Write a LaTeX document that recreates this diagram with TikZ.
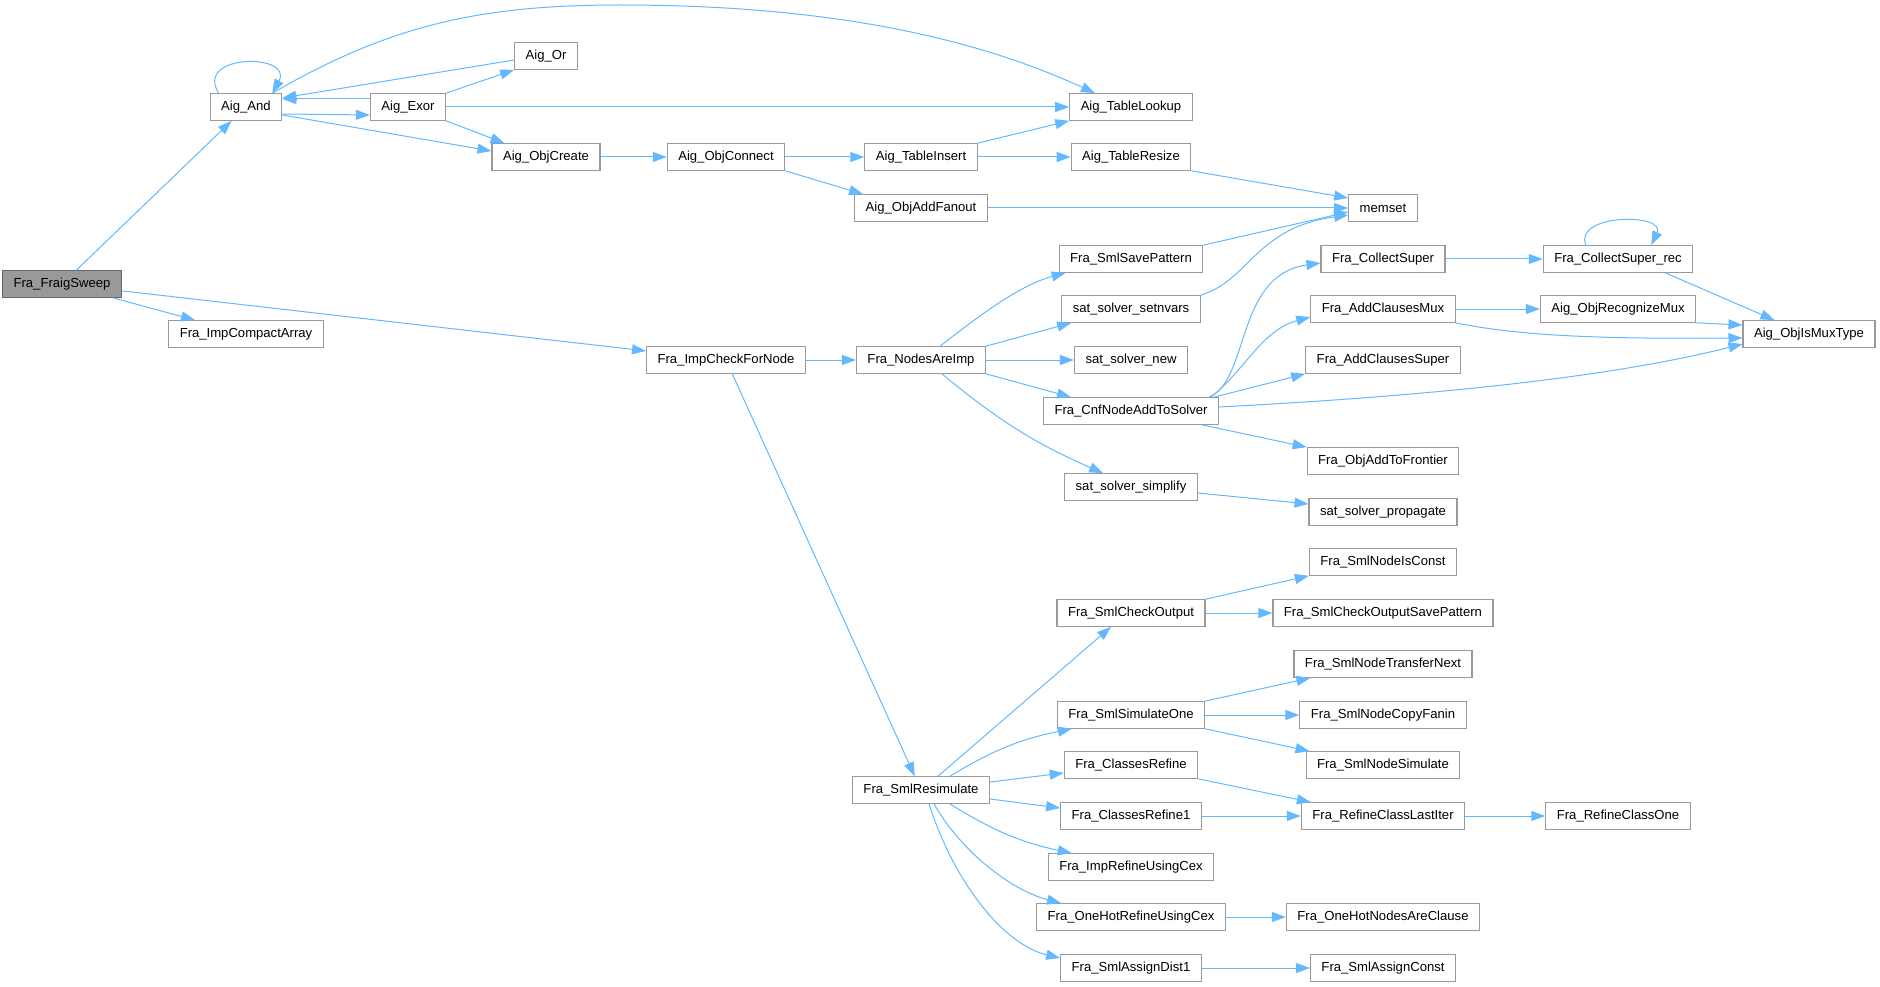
\documentclass[tikz,border=0pt]{standalone}
\usepackage{fontspec}
\setmainfont{Liberation Sans}
\usepackage{tikz}
\usetikzlibrary{arrows.meta, positioning}

\definecolor{edgeblue}{HTML}{63B8FF}
\definecolor{boxline}{HTML}{999999}
\definecolor{rootfill}{HTML}{999999}
\definecolor{rootline}{HTML}{666666}

\begin{document}
\begin{tikzpicture}[
  x=1pt, y=-1pt,
  fn/.style={draw=boxline, fill=white, line width=1.1pt, minimum height=26.6pt,
    inner xsep=11pt, inner ysep=0pt, font=\fontsize{13.1}{15}\selectfont},
  root/.style={fn, draw=rootline, fill=rootfill},
  call/.style={-{Triangle[length=14pt, width=10pt, fill=edgeblue]}, draw=edgeblue, line width=1pt}
]
\useasboundingbox (0,0) rectangle (1880,987);

% callers on the left
\node[root] (sweep) at (62,284) {Fra\_FraigSweep};
\node[fn] (aigand) at (246,107) {Aig\_And};
\node[fn] (compact) at (246,334) {Fra\_ImpCompactArray};
\node[fn] (exor) at (408,107) {Aig\_Exor};
\node[fn] (aigor) at (546,56) {Aig\_Or};
\node[fn] (objcreate) at (546,157) {Aig\_ObjCreate};
\node[fn] (objconnect) at (726,157) {Aig\_ObjConnect};
\node[fn] (impcheck) at (726,360) {Fra\_ImpCheckForNode};

% middle column
\node[fn] (tableinsert) at (921,157) {Aig\_TableInsert};
\node[fn] (addfanout) at (921,208) {Aig\_ObjAddFanout};
\node[fn] (areimp) at (921,360) {Fra\_NodesAreImp};
\node[fn] (resim) at (921,790) {Fra\_SmlResimulate};

\node[fn] (lookup) at (1131,107) {Aig\_TableLookup};
\node[fn] (resize) at (1131,157) {Aig\_TableResize};
\node[fn] (savepat) at (1131,259) {Fra\_SmlSavePattern};
\node[fn] (setnvars) at (1131,309) {sat\_solver\_setnvars};
\node[fn] (solvernew) at (1131,360) {sat\_solver\_new};
\node[fn] (cnfadd) at (1131,411) {Fra\_CnfNodeAddToSolver};
\node[fn] (simplify) at (1131,487) {sat\_solver\_simplify};
\node[fn] (checkout) at (1131,613) {Fra\_SmlCheckOutput};
\node[fn] (simone) at (1131,715) {Fra\_SmlSimulateOne};
\node[fn] (refine) at (1131,765) {Fra\_ClassesRefine};
\node[fn] (refine1) at (1131,816) {Fra\_ClassesRefine1};
\node[fn] (imprefine) at (1131,867) {Fra\_ImpRefineUsingCex};
\node[fn] (hotrefine) at (1131,917) {Fra\_OneHotRefineUsingCex};
\node[fn] (dist1) at (1131,968) {Fra\_SmlAssignDist1};

% callees on the right
\node[fn] (memset) at (1383,208) {memset};
\node[fn] (collect) at (1383,259) {Fra\_CollectSuper};
\node[fn] (clmux) at (1383,309) {Fra\_AddClausesMux};
\node[fn] (clsuper) at (1383,360) {Fra\_AddClausesSuper};
\node[fn] (frontier) at (1383,461) {Fra\_ObjAddToFrontier};
\node[fn] (propagate) at (1383,512) {sat\_solver\_propagate};
\node[fn] (isconst) at (1383,562) {Fra\_SmlNodeIsConst};
\node[fn] (checksave) at (1383,613) {Fra\_SmlCheckOutputSavePattern};
\node[fn] (transfer) at (1383,664) {Fra\_SmlNodeTransferNext};
\node[fn] (copyfanin) at (1383,715) {Fra\_SmlNodeCopyFanin};
\node[fn] (nodesim) at (1383,765) {Fra\_SmlNodeSimulate};
\node[fn] (lastiter) at (1383,816) {Fra\_RefineClassLastIter};
\node[fn] (hotclause) at (1383,917) {Fra\_OneHotNodesAreClause};
\node[fn] (assignconst) at (1383,968) {Fra\_SmlAssignConst};

\node[fn] (collectrec) at (1618,259) {Fra\_CollectSuper\_rec};
\node[fn] (recmux) at (1618,309) {Aig\_ObjRecognizeMux};
\node[fn] (classone) at (1618,816) {Fra\_RefineClassOne};
\node[fn] (ismux) at (1809,334) {Aig\_ObjIsMuxType};

% Fra_FraigSweep
\draw[call] (sweep) -- (aigand);
\draw[call] (sweep) -- (compact);
\draw[call] (sweep) -- (impcheck);

% Aig_And / Aig_Exor / Aig_Or
\draw[call] ([xshift=9pt]aigand.north west) .. controls +(-25,-40) and +(22,-40) .. ([xshift=-10pt]aigand.north east);
\draw[call] ([xshift=-10pt]aigand.north east) .. controls (390,25) and (480,5) .. (620,5)
  .. controls (850,5) and (990,45) .. ([xshift=-36pt]lookup.north);
\draw[call] ([yshift=-7pt]aigand.east) -- ([yshift=-8pt]exor.west);
\draw[call] ([yshift=-8pt]aigand.east) -- ([yshift=6pt]objcreate.west);
\draw[call] ([yshift=8pt]exor.west) -- ([yshift=8pt]aigand.east);
\draw[call] ([yshift=-4pt]aigor.west) -- ([yshift=9pt]aigand.east);
\draw[call] (exor.north east) -- (aigor.south west);
\draw[call] (exor) -- (lookup);
\draw[call] (exor.south east) -- ([xshift=13pt]objcreate.north west);

% object creation
\draw[call] (objcreate) -- (objconnect);
\draw[call] (objconnect) -- (tableinsert);
\draw[call] (objconnect.south east) -- ([xshift=9pt]addfanout.north west);
\draw[call] (tableinsert.north east) -- (lookup.south west);
\draw[call] (tableinsert) -- (resize);
\draw[call] (resize.south east) -- ([yshift=10pt]memset.west);
\draw[call] (addfanout) -- (memset);
\draw[call] (savepat.north east) -- ([yshift=-4pt]memset.west);
\draw[call] (setnvars.north east) .. controls (1250,280) and (1255,228) .. ([yshift=-7pt]memset.west);

% implication check
\draw[call] (impcheck) -- (areimp);
\draw[call] (impcheck) -- (resim);
\draw[call] ([xshift=19pt]areimp.north) .. controls (980,315) and (1020,285) .. ([xshift=7pt]savepat.south west);
\draw[call] (areimp.north east) -- ([xshift=10pt]setnvars.south west);
\draw[call] (areimp) -- (solvernew);
\draw[call] (areimp.south east) -- ([xshift=28pt]cnfadd.north west);
\draw[call] ([xshift=21pt]areimp.south) to[bend right=8] ([xshift=39pt]simplify.north west);
\draw[call] ([yshift=-6pt]simplify.east) -- ([yshift=8pt]propagate.west);

% CNF construction
\draw[call] ([xshift=-10pt]cnfadd.north east) .. controls (1250,380) and (1235,275) .. ([yshift=-4pt]collect.west);
\draw[call] ([xshift=-8pt]cnfadd.north east) .. controls (1245,370) and (1262,330) .. ([yshift=-8pt]clmux.west);
\draw[call] ([xshift=-5pt]cnfadd.north east) -- (clsuper.south west);
\draw[call] ([yshift=4pt]cnfadd.east) .. controls (1450,395) and (1620,375) .. ([yshift=-10pt]ismux.west);
\draw[call] ([xshift=-17pt]cnfadd.south east) -- (frontier.north west);
\draw[call] (collect) -- (collectrec);
\draw[call] ([xshift=43pt]collectrec.north west) .. controls +(-12,-32) and +(15,-32) .. ([xshift=-42pt]collectrec.north east);
\draw[call] ([xshift=-28pt]collectrec.south east) -- ([xshift=32pt]ismux.north west);
\draw[call] (clmux) -- (recmux);
\draw[call] (clmux.south east) .. controls (1520,336) and (1600,339) .. ([yshift=-4pt]ismux.west);
\draw[call] (recmux.south east) -- ([yshift=9pt]ismux.west);

% resimulation
\draw[call] ([xshift=17pt]resim.north) -- ([xshift=-20pt]checkout.south);
\draw[call] ([xshift=29pt]resim.north) to[bend left=10] ([xshift=15pt]simone.south west);
\draw[call] ([yshift=8pt]resim.east) -- ([yshift=-8pt]refine.west);
\draw[call] ([yshift=-9pt]resim.east) -- ([yshift=8pt]refine1.west);
\draw[call] ([xshift=29pt]resim.south) to[bend right=10] ([xshift=24pt]imprefine.north west);
\draw[call] ([xshift=13pt]resim.south) .. controls (960,850) and (1010,890) .. ([xshift=25pt]hotrefine.north west);
\draw[call] ([xshift=8pt]resim.south) .. controls (955,885) and (1005,945) .. ([yshift=10pt]dist1.west);

\draw[call] (checkout.north east) -- (isconst.south west);
\draw[call] (checkout) -- (checksave);
\draw[call] (simone.north east) -- ([xshift=17pt]transfer.south west);
\draw[call] (simone) -- (copyfanin);
\draw[call] (simone.south east) -- ([xshift=4pt]nodesim.north west);
\draw[call] (refine.south east) -- ([xshift=10pt]lastiter.north west);
\draw[call] (refine1) -- (lastiter);
\draw[call] (lastiter) -- (classone);
\draw[call] (hotrefine) -- (hotclause);
\draw[call] (dist1) -- (assignconst);
\end{tikzpicture}
\end{document}
